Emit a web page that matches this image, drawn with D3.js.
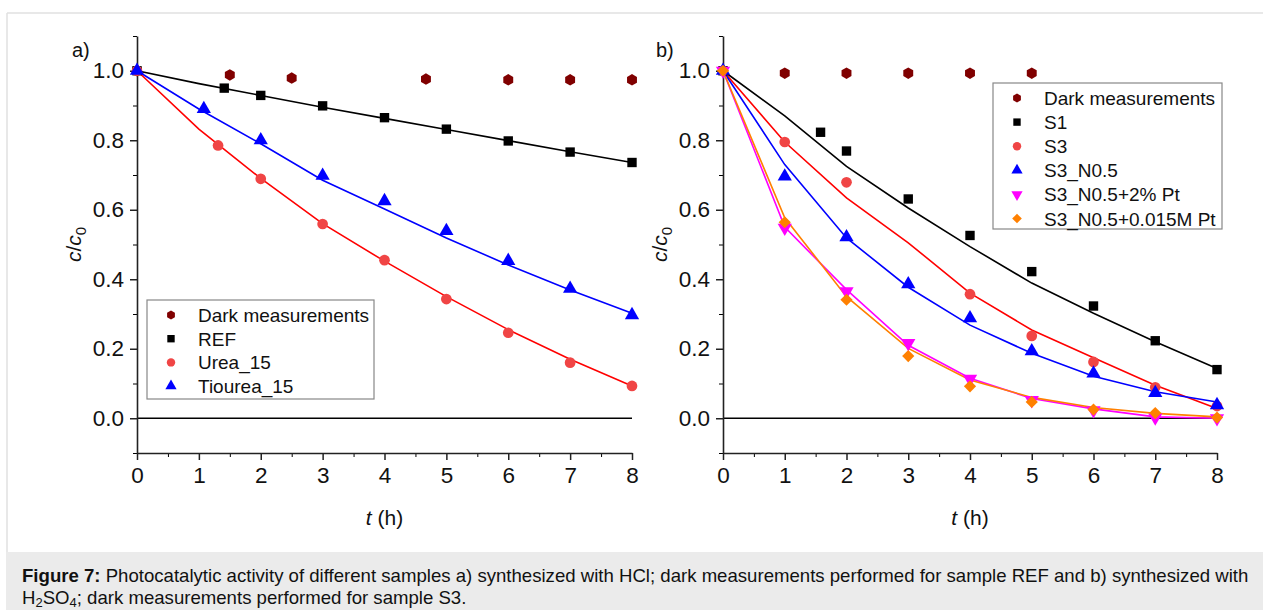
<!DOCTYPE html>
<html>
<head>
<meta charset="utf-8">
<script src="https://cdn.jsdelivr.net/npm/d3@7"></script>
<style>
  body { margin: 0; background: #fff; }
  svg { display: block; font-family: "Liberation Sans", Arial, sans-serif; }
</style>
</head>
<body>
<svg id="chart" width="1263" height="610"></svg>
<script>
// panel a) synthesized with HCl
const aDarkT = [0, 1.5, 2.5, 4.67, 6, 7, 8];
const aDarkC = [1.0, 0.988, 0.979, 0.976, 0.974, 0.974, 0.974];
const aRefT = [0, 1.41, 2, 3, 4, 5, 6, 7, 8];
const aRefC = [1.0, 0.95, 0.929, 0.899, 0.865, 0.832, 0.798, 0.766, 0.736];
const aUreaT = [0, 1.31, 2, 3, 4, 5, 6, 7, 8];
const aUreaC = [1.0, 0.785, 0.689, 0.559, 0.455, 0.343, 0.246, 0.16, 0.093];
const aTioT = [0, 1.08, 2, 3, 4, 5, 6, 7, 8];
const aTioC = [1.0, 0.89, 0.80, 0.698, 0.625, 0.539, 0.453, 0.373, 0.297];
// fitted curves, read at whole hours
const fitT = [0, 1, 2, 3, 4, 5, 6, 7, 8];
const aRefFit = [1.0, 0.963, 0.929, 0.895, 0.863, 0.831, 0.799, 0.767, 0.736];
const aUreaFit = [1.0, 0.832, 0.69, 0.56, 0.452, 0.35, 0.255, 0.17, 0.093];
const aTioFit = [1.0, 0.89, 0.79, 0.685, 0.602, 0.519, 0.441, 0.369, 0.302];

// panel b) synthesized with H2SO4
const bDarkT = [0, 1, 2, 3, 4, 5];
const bDarkC = [1.0, 0.993, 0.993, 0.993, 0.993, 0.993];
const bS1T = [0, 1.58, 2, 3, 4, 5, 6, 7, 8];
const bS1C = [1.0, 0.823, 0.769, 0.631, 0.526, 0.422, 0.323, 0.223, 0.14];
const bS3T = [0, 1, 2, 4, 5, 6, 7, 8];
const bS3C = [1.0, 0.795, 0.679, 0.357, 0.237, 0.162, 0.089, 0.035];
const bN05C = [1.0, 0.696, 0.521, 0.386, 0.288, 0.193, 0.129, 0.073, 0.038];
const bPt2C = [1.0, 0.548, 0.365, 0.216, 0.113, 0.052, 0.023, 0.002, 0.0];
const bPtMC = [1.0, 0.564, 0.341, 0.179, 0.092, 0.047, 0.025, 0.015, 0.002];
const bS1Fit = [1.0, 0.87, 0.725, 0.605, 0.494, 0.389, 0.302, 0.22, 0.143];
const bS3Fit = [1.0, 0.795, 0.634, 0.505, 0.36, 0.254, 0.174, 0.095, 0.028];
const bN05Fit = [1.0, 0.73, 0.519, 0.377, 0.268, 0.187, 0.121, 0.076, 0.047];
const bPt2Fit = [1.0, 0.55, 0.37, 0.21, 0.115, 0.057, 0.027, 0.004, 0.0];
const bPtMFit = [1.0, 0.577, 0.35, 0.201, 0.11, 0.06, 0.031, 0.014, 0.004];

const xTicks = [0, 1, 2, 3, 4, 5, 6, 7, 8];
const yTicks = [0.0, 0.2, 0.4, 0.6, 0.8, 1.0];
const legendA = ["Dark measurements", "REF", "Urea_15", "Tiourea_15"];
const legendB = ["Dark measurements", "S1", "S3", "S3_N0.5", "S3_N0.5+2% Pt", "S3_N0.5+0.015M Pt"];

const svg = d3.select("#chart");

// page frame + caption strip
svg.append("line").attr("x1", 7).attr("x2", 1263).attr("y1", 13).attr("y2", 13)
  .attr("stroke", "#e0e0e0").attr("stroke-width", 1.5);
svg.append("line").attr("x1", 7).attr("x2", 7).attr("y1", 13).attr("y2", 552)
  .attr("stroke", "#e0e0e0").attr("stroke-width", 1.5);
svg.append("rect").attr("x", 6).attr("y", 552).attr("width", 1257).attr("height", 58)
  .attr("fill", "#ebebeb");

// hexagon marker for the dark runs
const symbolHex = {
  draw(ctx, size) {
    const r = Math.sqrt(size / (1.5 * Math.sqrt(3)));
    for (let i = 0; i < 6; i++) {
      const a = Math.PI / 6 + i * Math.PI / 3;
      if (i === 0) ctx.moveTo(r * Math.cos(a), r * Math.sin(a));
      else ctx.lineTo(r * Math.cos(a), r * Math.sin(a));
    }
    ctx.closePath();
  }
};

function panel(opt) {
  const x = d3.scaleLinear().domain([0, 8]).range([opt.left, opt.right]);
  const y = d3.scaleLinear().domain([-0.1, 1.1]).range([453, 36]);
  const g = svg.append("g");

  // zero line
  g.append("line")
    .attr("x1", x(0)).attr("x2", x(8)).attr("y1", y(0)).attr("y2", y(0))
    .attr("stroke", "#000").attr("stroke-width", 1.3);

  // minor ticks
  g.append("g").attr("transform", `translate(0,${y(-0.1)})`)
    .call(d3.axisBottom(x).tickValues(d3.range(0.5, 8, 1)).tickSize(4).tickFormat("").tickSizeOuter(0))
    .call(a => a.select(".domain").remove());
  g.append("g").attr("transform", `translate(${x(0)},0)`)
    .call(d3.axisLeft(y).tickValues([-0.1, 0.1, 0.3, 0.5, 0.7, 0.9, 1.1]).tickSize(4).tickFormat("").tickSizeOuter(0))
    .call(a => a.select(".domain").remove());

  const xa = g.append("g").attr("transform", `translate(0,${y(-0.1)})`)
    .call(d3.axisBottom(x).tickValues(xTicks).tickSize(7).tickPadding(7).tickFormat(d3.format("d")).tickSizeOuter(0));
  const ya = g.append("g").attr("transform", `translate(${x(0)},0)`)
    .call(d3.axisLeft(y).tickValues(yTicks).tickSize(7).tickPadding(6).tickFormat(d3.format(".1f")).tickSizeOuter(0));
  [xa, ya].forEach(a => {
    a.selectAll("text").attr("font-size", 22.5).attr("fill", "#111").attr("font-family", "Liberation Sans, Arial");
    a.selectAll("line").attr("stroke", "#222").attr("stroke-width", 1.5);
    a.select(".domain").attr("stroke", "#222").attr("stroke-width", 1.6);
  });
  g.selectAll("line").filter(function () { return !this.getAttribute("stroke"); })
    .attr("stroke", "#222").attr("stroke-width", 1.5);

  // axis titles
  const xt = g.append("text").attr("x", (x(0) + x(8)) / 2).attr("y", 525)
    .attr("text-anchor", "middle").attr("font-size", 21).attr("fill", "#111");
  xt.append("tspan").attr("font-style", "italic").text("t");
  xt.append("tspan").text(" (h)");

  const yt = g.append("text")
    .attr("transform", `translate(${x(0) - 56},${y(0.5)}) rotate(-90)`)
    .attr("text-anchor", "middle").attr("font-size", 21).attr("fill", "#111");
  yt.append("tspan").attr("font-style", "italic").text("c");
  yt.append("tspan").text("/");
  yt.append("tspan").attr("font-style", "italic").text("c");
  yt.append("tspan").attr("font-size", 15).attr("dy", 5).text("0");

  g.append("text").attr("x", opt.labelX).attr("y", 57).attr("font-size", 20)
    .attr("fill", "#111").text(opt.label);

  const line = d3.line().x(d => x(d[0])).y(d => y(d[1]));
  opt.fits.forEach(f => {
    g.append("path").datum(d3.zip(fitT, f.c))
      .attr("fill", "none").attr("stroke", f.color).attr("stroke-width", 1.6)
      .attr("d", line);
  });

  opt.series.forEach(s => {
    const sym = d3.symbol().type(s.type).size(s.size);
    g.append("g").selectAll("path").data(d3.zip(s.t, s.c)).join("path")
      .attr("transform", d => `translate(${x(d[0])},${y(d[1])})${s.flip ? " rotate(180)" : ""}`)
      .attr("d", sym).attr("fill", s.color);
  });

  // legend
  const lg = g.append("g");
  const L = opt.legend;
  lg.append("rect").attr("x", L.x).attr("y", L.y).attr("width", L.w).attr("height", L.h)
    .attr("fill", "#fff").attr("stroke", "#888").attr("stroke-width", 1.2);
  opt.series.forEach((s, i) => {
    const cy = L.y + 15 + i * L.step;
    const sym = d3.symbol().type(s.type).size(s.size * 0.62);
    lg.append("path").attr("transform", `translate(${L.x + 24},${cy})${s.flip ? " rotate(180)" : ""}`)
      .attr("d", sym).attr("fill", s.color);
    lg.append("text").attr("x", L.x + 51).attr("y", cy + 7).attr("font-size", 19)
      .attr("fill", "#111").text(L.names[i]);
  });
}

panel({
  left: 137, right: 632, label: "a)", labelX: 72,
  fits: [
    { c: aRefFit, color: "#000" },
    { c: aTioFit, color: "#0000ff" },
    { c: aUreaFit, color: "#ff0000" }
  ],
  series: [
    { t: aDarkT, c: aDarkC, type: symbolHex, size: 85, color: "#800000" },
    { t: aRefT, c: aRefC, type: d3.symbolSquare, size: 88, color: "#000" },
    { t: aUreaT, c: aUreaC, type: d3.symbolCircle, size: 90, color: "#f04545" },
    { t: aTioT, c: aTioC, type: d3.symbolTriangle, size: 88, color: "#0000ff" }
  ],
  legend: { x: 147, y: 300, w: 227, h: 99, step: 23.7, names: legendA }
});

panel({
  left: 723, right: 1217, label: "b)", labelX: 656,
  fits: [
    { c: bS1Fit, color: "#000" },
    { c: bS3Fit, color: "#ff0000" },
    { c: bN05Fit, color: "#0000ff" },
    { c: bPt2Fit, color: "#ff00ff" },
    { c: bPtMFit, color: "#ff8000" }
  ],
  series: [
    { t: bDarkT, c: bDarkC, type: symbolHex, size: 85, color: "#800000" },
    { t: bS1T, c: bS1C, type: d3.symbolSquare, size: 88, color: "#000" },
    { t: bS3T, c: bS3C, type: d3.symbolCircle, size: 90, color: "#f04545" },
    { t: fitT, c: bN05C, type: d3.symbolTriangle, size: 88, color: "#0000ff" },
    { t: fitT, c: bPt2C, type: d3.symbolTriangle, size: 88, color: "#ff00ff", flip: true },
    { t: fitT, c: bPtMC, type: d3.symbolDiamond2, size: 95, color: "#ff8000" }
  ],
  legend: { x: 993, y: 83, w: 229, h: 146, step: 24.1, names: legendB }
});

// caption
const cap = svg.append("g").attr("font-size", 18.6).attr("fill", "#111");
const l1 = cap.append("text").attr("x", 22).attr("y", 582);
l1.append("tspan").attr("font-weight", "bold").text("Figure 7:");
l1.append("tspan").text(" Photocatalytic activity of different samples a) synthesized with HCl; dark measurements performed for sample REF and b) synthesized with");
const l2 = cap.append("text").attr("x", 22).attr("y", 604);
l2.append("tspan").text("H");
l2.append("tspan").attr("font-size", 13).attr("dy", 3).text("2");
l2.append("tspan").attr("dy", -3).text("SO");
l2.append("tspan").attr("font-size", 13).attr("dy", 3).text("4");
l2.append("tspan").attr("dy", -3).text("; dark measurements performed for sample S3.");
</script>
</body>
</html>
